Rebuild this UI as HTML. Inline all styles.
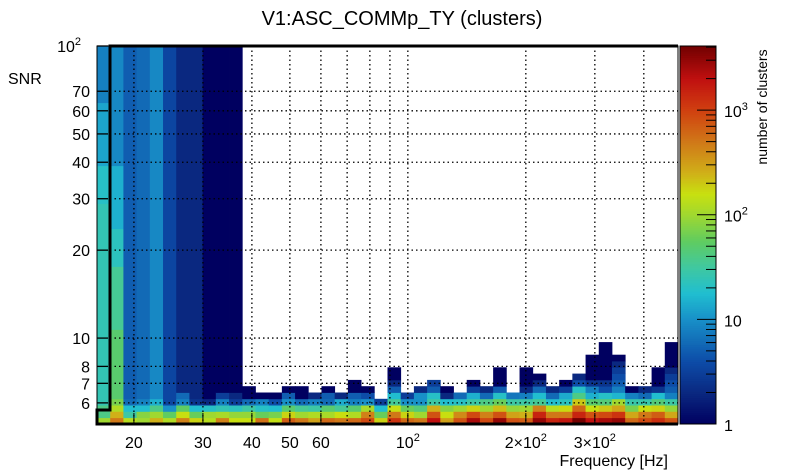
<!DOCTYPE html>
<html><head><meta charset="utf-8">
<style>
html,body{margin:0;padding:0;background:#fff;}
svg{display:block;font-family:"Liberation Sans",sans-serif;}
</style></head>
<body>
<svg id="chart" width="805" height="472" viewBox="0 0 805 472">
<text x="402" y="25" font-size="20" text-anchor="middle">V1:ASC_COMMp_TY (clusters)</text>
<text x="8" y="84" font-size="16">SNR</text>
<text x="668" y="466" font-size="16" text-anchor="end">Frequency [Hz]</text>
<text transform="translate(767,107) rotate(-90)" font-size="14" text-anchor="middle">number of clusters</text>
<g id="cells"></g>
<g id="grid"></g>
<g id="frame"></g>
<g id="xaxis"></g>
<g id="yaxis"></g>
<g id="cbar"></g>
</svg>
<script>
// Axis ranges
const freqMin = 16.1, freqMax = 489, nFreqBins = 44;
const snrMin = 5.08, snrMax = 100, nSnrBins = 60;
const countMax = 4100;
// Tick labels: [base, superscript-or-empty]
const xTickVals = [20, 30, 40, 50, 60, 100, 200, 300];
const xTickLabels = [["20",""], ["30",""], ["40",""], ["50",""], ["60",""], ["10","2"], ["2×10","2"], ["3×10","2"]];
const xGridVals = [20,30,40,50,60,70,80,90,100,200,300,400];
const yTickVals = [6, 7, 8, 10, 20, 30, 40, 50, 60, 70, 100];
const yTickLabels = [["6",""], ["7",""], ["8",""], ["10",""], ["20",""], ["30",""], ["40",""], ["50",""], ["60",""], ["70",""], ["10","2"]];
const cTickVals = [1, 10, 100, 1000];
const cTickLabels = [["1",""], ["10",""], ["10","2"], ["10","3"]];
// Counts per frequency bin, run-length encoded from lowest SNR bin: [count, number of SNR bins]
const col00 = [[100,1],[40,2],[25,32],[20,6],[13,10],[8,9]];
const col01 = [[500,1],[250,1],[120,1],[70,1],[50,11],[35,10],[22,6],[15,10],[9,19]];
const col02 = [[130,1],[30,1],[18,1],[6,1],[5,56]];
const col03 = [[100,1],[80,1],[18,1],[8,1],[6,56]];
const col04 = [[250,1],[100,1],[40,1],[15,1],[9,56]];
const col05 = [[120,1],[55,1],[10,1],[3.5,57]];
const col06 = [[450,1],[160,1],[55,1],[8,1],[6,1],[2,55]];
const col07 = [[180,1],[60,1],[18,1],[2.5,1],[2,56]];
const col08 = [[130,1],[100,1],[20,1],[2,1],[1,56]];
const col09 = [[450,1],[110,1],[25,1],[8,1],[3,1],[1,55]];
const col10 = [[160,1],[90,1],[22,1],[3,1],[2,1],[1,55]];
const col11 = [[160,1],[90,1],[30,1],[6,1],[1,2]];
const col12 = [[550,1],[60,1],[20,1],[8,1],[1,1]];
const col13 = [[150,1],[70,1],[18,1],[4,1],[1,1]];
const col14 = [[700,1],[180,1],[50,1],[10,1],[5,1],[1,1]];
const col15 = [[500,1],[100,1],[35,1],[6,1],[1,2]];
const col16 = [[300,1],[120,1],[30,1],[8,1],[2,1]];
const col17 = [[600,1],[110,1],[50,1],[6,1],[5,1],[1,1]];
const col18 = [[500,1],[160,1],[35,1],[14,1],[2,1]];
const col19 = [[600,1],[120,1],[50,1],[8,1],[5,1],[1,2]];
const col20 = [[900,1],[450,1],[110,1],[10,1],[4,1],[1,1]];
const col21 = [[180,1],[60,1],[18,1],[3,1]];
const col22 = [[1200,1],[500,1],[160,1],[35,1],[18,1],[5,1],[2,1],[1,2]];
const col23 = [[600,1],[180,1],[60,1],[10,1],[3,1]];
const col24 = [[500,1],[100,1],[45,1],[10,1],[10,1],[2,1]];
const col25 = [[2000,1],[800,1],[250,1],[30,1],[20,1],[5,1],[3,1]];
const col26 = [[300,1],[160,1],[80,1],[18,1],[2,1],[1,1]];
const col27 = [[800,1],[400,1],[100,1],[20,1],[6,1]];
const col28 = [[2500,1],[900,1],[180,1],[30,1],[15,1],[3,1],[1,1]];
const col29 = [[900,1],[450,1],[100,1],[40,1],[6,1],[2,1]];
const col30 = [[3000,1],[800,1],[220,1],[60,1],[20,1],[5,1],[1,3]];
const col31 = [[800,1],[300,1],[90,1],[30,1],[7,1]];
const col32 = [[700,1],[250,1],[100,1],[30,1],[8,1],[2,1],[1,3]];
const col33 = [[3000,1],[1500,1],[450,1],[35,1],[18,1],[6,1],[2,1],[1,1]];
const col34 = [[1500,1],[500,1],[130,1],[18,1],[6,1],[2,1]];
const col35 = [[1800,1],[500,1],[170,1],[22,1],[14,1],[3,1],[1,1]];
const col36 = [[4000,1],[1500,1],[600,1],[200,1],[40,1],[20,1],[4,1],[2,1]];
const col37 = [[2000,1],[800,1],[160,1],[50,1],[15,1],[8,1],[2.5,1],[1,4]];
const col38 = [[2500,1],[900,1],[200,1],[45,1],[20,1],[4,1],[2.5,1],[1,6]];
const col39 = [[3000,1],[1200,1],[280,1],[100,1],[16,1],[8,1],[5,1],[4,1],[3,1],[2,1],[1,1]];
const col40 = [[600,1],[280,1],[70,1],[28,1],[8,1],[1,1]];
const col41 = [[900,1],[500,1],[160,1],[28,1],[6,1],[2,1]];
const col42 = [[1300,1],[700,1],[180,1],[45,1],[18,1],[2.5,1],[1,3]];
const col43 = [[800,1],[280,1],[90,1],[30,1],[8,1],[5,1],[4,1],[3,1],[2,1],[1,4]];
const columns = [col00,col01,col02,col03,col04,col05,col06,col07,col08,col09,col10,col11,col12,col13,col14,col15,col16,col17,col18,col19,col20,col21,col22,col23,col24,col25,col26,col27,col28,col29,col30,col31,col32,col33,col34,col35,col36,col37,col38,col39,col40,col41,col42,col43];

const NS = "http://www.w3.org/2000/svg";
const PX0 = 97, PX1 = 678, PY0 = 46, PY1 = 424;
const CB0 = 680, CB1 = 716;
function xScale(f){ return PX0 + (Math.log10(f)-Math.log10(freqMin))/(Math.log10(freqMax)-Math.log10(freqMin))*(PX1-PX0); }
function yScale(s){ return PY1 - (Math.log10(s)-Math.log10(snrMin))/(Math.log10(snrMax)-Math.log10(snrMin))*(PY1-PY0); }
function cScale(c){ return PY1 - Math.log10(c)/Math.log10(countMax)*(PY1-PY0); }
const stops = [[0,[0,0,96]],[0.3,[10,40,128]],[0.6,[13,76,168]],[1,[24,144,200]],[1.25,[32,190,208]],[1.5,[64,200,160]],[1.75,[96,204,96]],[2,[160,216,48]],[2.2,[200,224,16]],[2.4,[208,176,24]],[2.7,[208,120,24]],[3,[208,64,16]],[3.3,[192,16,16]],[3.62,[112,0,0]]];
function color(c){
  const l = Math.log10(Math.max(c,1));
  for(let i=1;i<stops.length;i++){
    if(l<=stops[i][0]){
      const a=stops[i-1], b=stops[i], t=(l-a[0])/(b[0]-a[0]);
      const r=a[1].map((v,k)=>Math.round(v+(b[1][k]-v)*t));
      return `rgb(${r[0]},${r[1]},${r[2]})`;
    }
  }
  return "rgb(112,0,0)";
}
function mk(tag, attrs, parent){ const e=document.createElementNS(NS,tag); for(const k in attrs) e.setAttribute(k,attrs[k]); parent.appendChild(e); return e; }
function label(t, parts){
  t.appendChild(document.createTextNode(parts[0]));
  if(parts[1]){ const s = mk("tspan", {dy:-7, "font-size":11}, t); s.textContent = parts[1]; }
}
const fEdge = i => Math.pow(10, Math.log10(freqMin) + i*(Math.log10(freqMax)-Math.log10(freqMin))/nFreqBins);
const sEdge = j => Math.pow(10, Math.log10(snrMin) + j*(Math.log10(snrMax)-Math.log10(snrMin))/nSnrBins);

const cells = document.getElementById("cells");
columns.forEach((col, i) => {
  let j = 0;
  col.forEach(([cnt, n]) => {
    const x0 = xScale(fEdge(i)), x1 = xScale(fEdge(i+1));
    const y0 = yScale(sEdge(Math.min(j+n, nSnrBins))), y1 = yScale(sEdge(j));
    const r = mk("rect", {x:x0, y:y0, width:x1-x0+0.4, height:y1-y0+0.4, fill:color(cnt)}, cells);
    
    
    j += n;
  });
});

const grid = document.getElementById("grid");
xGridVals.forEach(v => {
  const x = xScale(v);
  const l = mk("line", {x1:x, x2:x, y1:PY0, y2:PY1, stroke:"#000", "stroke-width":1.3, "stroke-dasharray":"1.5 3"}, grid);
  
  
});
yTickVals.forEach(v => {
  const y = yScale(v);
  const l = mk("line", {x1:110, x2:PX1, y1:y, y2:y, stroke:"#000", "stroke-width":1.3, "stroke-dasharray":"1.5 3"}, grid);
  
  
});

const frame = document.getElementById("frame");
mk("rect", {x:PX0, y:PY0, width:PX1-PX0, height:PY1-PY0, fill:"none", stroke:"#000", "stroke-width":1}, frame);
mk("path", {d:`M${PX1},${PY0} H110 V410 H${PX0} V${PY1} H${PX1}`, fill:"none", stroke:"#000", "stroke-width":3}, frame);

const xaxis = document.getElementById("xaxis");
xTickVals.forEach((v, k) => {
  const x = xScale(v);
  mk("line", {x1:x, x2:x, y1:PY1, y2:PY1-11, stroke:"#000", "stroke-width":1}, xaxis);
  const t = mk("text", {x:x, y:448, "font-size":16, "text-anchor":"middle"}, xaxis);
  label(t, xTickLabels[k]);
  
  
});
const yaxis = document.getElementById("yaxis");
yTickVals.forEach((v, k) => {
  const y = yScale(v);
  mk("line", {x1:PX0, x2:PX0+11, y1:y, y2:y, stroke:"#000", "stroke-width":1.3}, yaxis);
  const t = mk("text", {x:yTickLabels[k][1] ? 81 : 90, y:y+6, "font-size":16, "text-anchor":"end"}, yaxis);
  label(t, yTickLabels[k]);
  
  
});

const cbar = document.getElementById("cbar");
for(let i=0;i<200;i++){
  const l0 = i/200*Math.log10(countMax), l1=(i+1)/200*Math.log10(countMax);
  const y0 = cScale(Math.pow(10,l1)), y1 = cScale(Math.pow(10,l0));
  mk("rect", {x:CB0, y:y0, width:CB1-CB0, height:y1-y0+0.5, fill:color(Math.pow(10,(l0+l1)/2))}, cbar);
}
mk("rect", {x:CB0, y:PY0, width:CB1-CB0, height:PY1-PY0, fill:"none", stroke:"#000", "stroke-width":1}, cbar);
for(let d=0; d<4; d++){
  for(let m=1;m<=9;m++){
    const c = m*Math.pow(10,d);
    if(c>countMax) break;
    const y = cScale(c);
    mk("line", {x1:CB1, x2:CB1-(m===1?19:10), y1:y, y2:y, stroke:"#000", "stroke-width":1}, cbar);
  }
}
cTickVals.forEach((v,k) => {
  const t = mk("text", {x:724, y:cScale(v)+7, "font-size":16}, cbar);
  label(t, cTickLabels[k]);
  
  
});
</script>
</body></html>
